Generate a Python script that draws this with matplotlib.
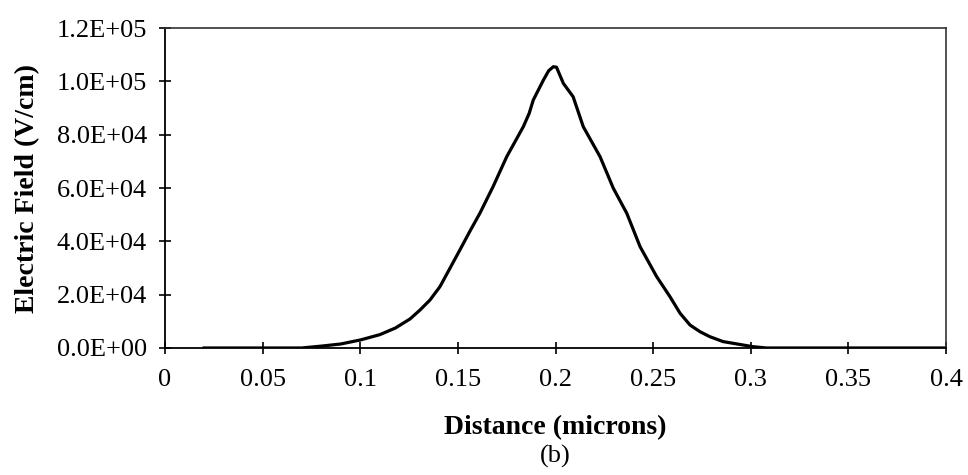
import numpy as np
import matplotlib.pyplot as plt

#  Distance (microns) and electric field (V/cm)
distance = [0.02, 0.04, 0.06, 0.07, 0.08, 0.09, 0.10, 0.110, 0.118,
            0.1255, 0.1306, 0.1357, 0.1408, 0.146, 0.151, 0.156, 0.1613,
            0.168, 0.175, 0.1835, 0.1865, 0.1886, 0.1938, 0.1965, 0.1989,
            0.2005, 0.204, 0.209, 0.2142, 0.2228, 0.2296, 0.2365, 0.2433,
            0.2518, 0.2586, 0.2638, 0.2689, 0.274, 0.279, 0.2858, 0.301,
            0.308, 0.33, 0.36, 0.40]
field = [0, 0, 0, 0, 700, 1500, 3000, 5000, 7500,
         10900, 14250, 18000, 23000, 30000, 36750, 43600, 50600,
         60500, 71750, 83000, 88000, 93000, 100500, 104000, 105500,
         105300, 99250, 94250, 83000, 71750, 59900, 50500, 38000,
         26750, 19250, 13000, 8600, 6100, 4250, 2400, 500,
         0, 0, 0, 0]

xticks = [0, 0.05, 0.1, 0.15, 0.2, 0.25, 0.3, 0.35, 0.4]
xtick_labels = ['0', '0.05', '0.1', '0.15', '0.2', '0.25', '0.3', '0.35', '0.4']
yticks = [0, 20000, 40000, 60000, 80000, 100000, 120000]
ytick_labels = ['0.0E+00', '2.0E+04', '4.0E+04', '6.0E+04', '8.0E+04',
                '1.0E+05', '1.2E+05']

plt.rcParams['font.family'] = ['Liberation Serif', 'DejaVu Serif']
plt.rcParams['font.size'] = 19

fig = plt.figure(figsize=(9.68, 4.75), dpi=100)
ax = fig.add_axes([0.1705, 0.2674, 0.8068, 0.6736])

ax.plot(distance, field, color='black', linewidth=2.3)

ax.set_xlim(0, 0.4)
ax.set_ylim(0, 120000)
ax.set_xticks(xticks)
ax.set_xticklabels(xtick_labels)
ax.set_yticks(yticks)
ax.set_yticklabels(ytick_labels)
ax.tick_params(direction='inout', length=8, width=1.2)
ax.tick_params(axis='x', pad=11)
ax.tick_params(axis='y', pad=9)

ax.spines['left'].set_linewidth(1.3)
ax.spines['bottom'].set_linewidth(1.3)
ax.spines['top'].set_linewidth(1.2)
ax.spines['right'].set_linewidth(1.2)
ax.spines['top'].set_color('#333333')
ax.spines['right'].set_color('#333333')

ax.set_ylabel('Electric Field (V/cm)', fontweight='bold', fontsize=20,
              labelpad=12)
fig.text(0.5739, 0.099, 'Distance (microns)', fontweight='bold',
         fontsize=20, ha='center', va='center')
fig.text(0.5739, 0.040, '(b)', ha='center', va='center')

fig.savefig('out.png', dpi=100)
